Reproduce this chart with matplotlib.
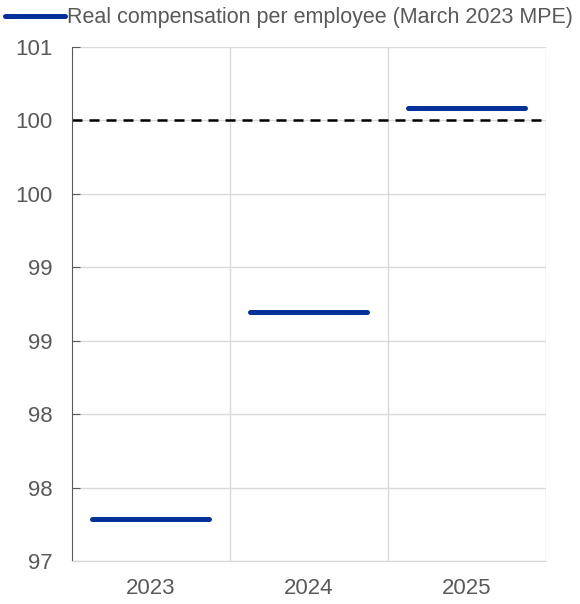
import numpy as np
import matplotlib
matplotlib.use("Agg")
import matplotlib.pyplot as plt

plt.rcParams["font.family"] = ["Liberation Sans", "DejaVu Sans"]

GREY = "#595959"
BLUE = "#003299"

# data
years = ["2023", "2024", "2025"]
real_comp = [97.33, 98.94, 100.52]
baseline = 100.43
ytick_vals = np.linspace(97, 101, 8)
ytick_labels = ["97", "98", "98", "99", "99", "100", "100", "101"]

fig = plt.figure(figsize=(5.8, 6.04), dpi=100)
ax = fig.add_axes([0.124, 0.071, 0.817, 0.852])

half = 0.37
for i, v in enumerate(real_comp):
    ax.plot([i - half, i + half], [v, v], color=BLUE, lw=3.6,
            solid_capstyle="round", zorder=3,
            label="Real compensation per employee (March 2023 MPE)" if i == 0 else None)

ax.axhline(baseline, color="black", lw=1.8, dashes=(4, 2.8), zorder=2)

ax.set_xlim(-0.5, 2.5)
ax.set_ylim(97, 101)
ax.set_yticks(ytick_vals)
ax.set_yticklabels(ytick_labels)
ax.set_xticks(range(len(years)))
ax.set_xticklabels(years)
ax.set_xticks([0.5, 1.5, 2.5], minor=True)

ax.grid(True, axis="y", color="#d9d9d9", lw=1)
ax.grid(True, axis="x", which="minor", color="#d9d9d9", lw=1)
ax.set_axisbelow(True)

for s in ["top", "right"]:
    ax.spines[s].set_visible(False)
ax.spines["left"].set_color(GREY)
ax.spines["bottom"].set_color("#d9d9d9")

ax.tick_params(axis="y", direction="in", length=6, color=GREY, labelsize=16,
               labelcolor=GREY, pad=14)
ax.tick_params(axis="x", which="both", length=0, labelsize=16, labelcolor=GREY, pad=12)

ax.legend(loc="center left", bbox_to_anchor=(0.008, 1 - 18 / 604),
          bbox_transform=fig.transFigure,
          frameon=False, fontsize=15.5, handlelength=2.8, handletextpad=0.1,
          borderaxespad=0, borderpad=0, labelcolor=GREY)

fig.savefig("out.png", dpi=100)
